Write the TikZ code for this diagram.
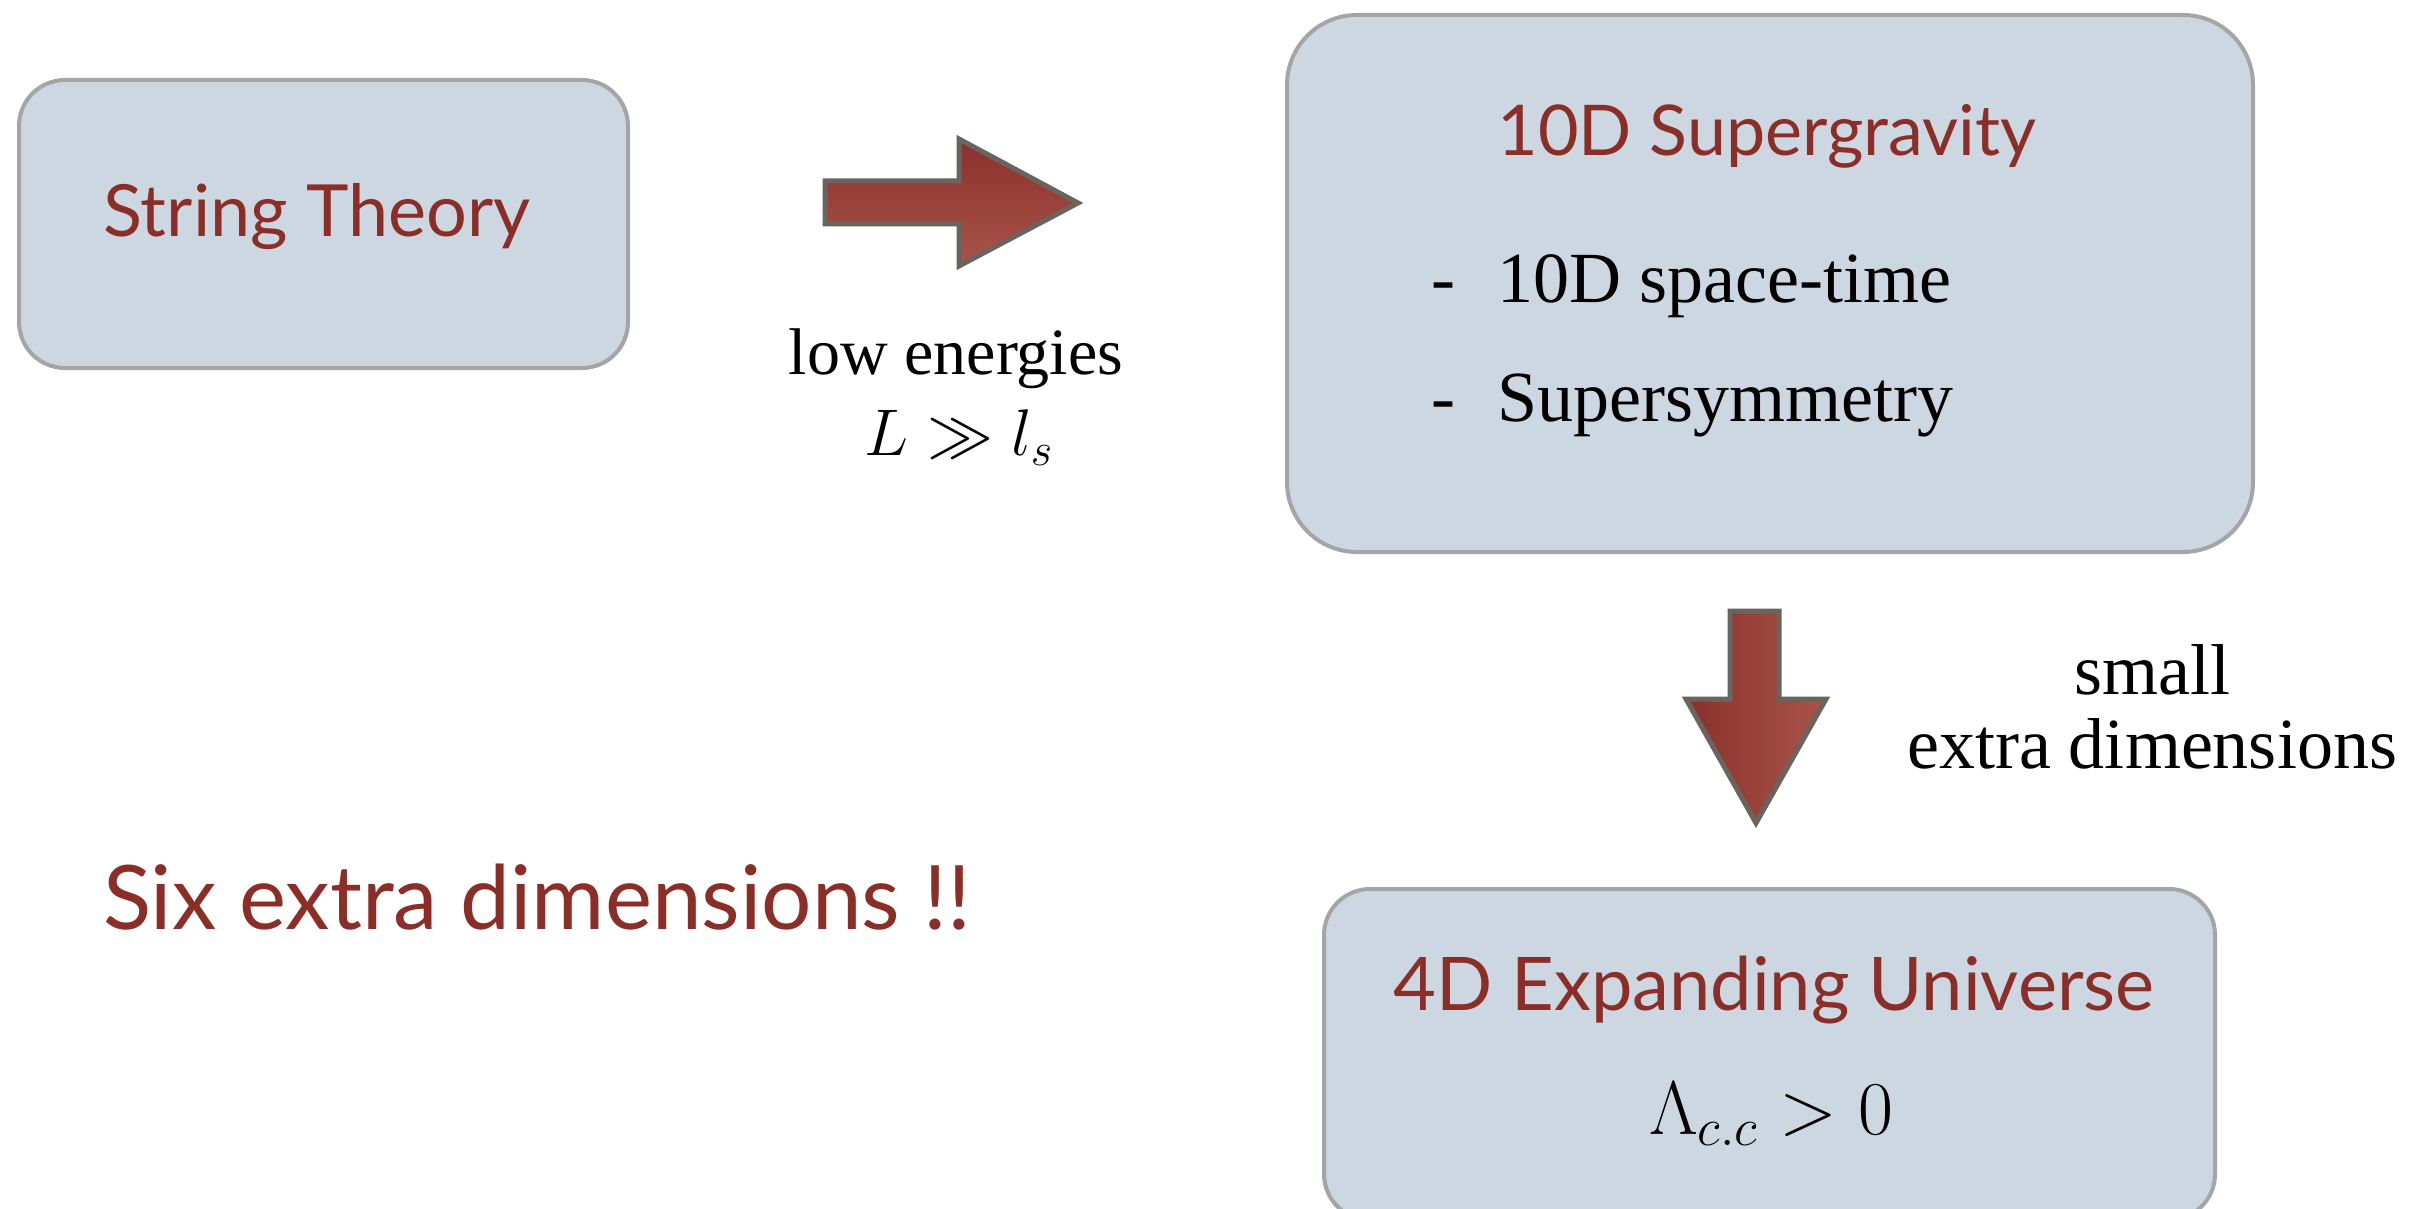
\documentclass[tikz,border=0pt]{standalone}
\usepackage{fix-cm}
\usepackage{fontspec}
\setmainfont{Liberation Serif}
\newfontfamily\titlefont{Lato}

\definecolor{boxfill}{HTML}{CDD7E1}
\definecolor{boxedge}{HTML}{A5A5A5}
\definecolor{titlered}{HTML}{8C2E28}
\definecolor{arrowedge}{HTML}{6A645E}
\definecolor{arrowdark}{HTML}{8A302B}
\definecolor{arrowlight}{HTML}{A9544A}

\begin{document}
\begin{tikzpicture}[x=0.5pt,y=-0.5pt,
  box/.style={rectangle, draw=boxedge, line width=2pt, fill=boxfill,
    rounded corners=#1, inner sep=0pt},
  box/.default=23pt,
  title/.style={text=titlered, inner sep=0pt, font=\titlefont\fontsize{#1}{#1}\selectfont},
  plain/.style={text=black, inner sep=0pt, font=\fontsize{#1}{#1}\selectfont},
  blockarrow/.style={draw=arrowedge, line width=2.5pt, line join=miter}
]
\useasboundingbox (0,0) rectangle (2426,1209);

% boxes
\node[box, minimum width=304.5pt, minimum height=144pt] (st) at (323.5,224) {};
\node[box=35pt, minimum width=483pt, minimum height=268.5pt] (sg) at (1770,283.5) {};
\node[box, minimum width=445.5pt, minimum height=165.5pt] (eu) at (1769.5,1054.5) {};

% box contents
\node[title=36] (sttext) at (317,217) {String Theory};
\node[title=35] (sgtitle) at (1767,136) {10D Supergravity};
\node[plain=36, anchor=mid west] (dash1) at (1431,298) {-};
\node[plain=36, anchor=mid west] (item1) at (1497,298) {10D space-time};
\node[plain=36, anchor=mid west] (dash2) at (1431,417) {-};
\node[plain=36, anchor=mid west] (item2) at (1497,417) {Supersymmetry};
\node[title=37] (eutitle) at (1774,990) {4D Expanding Universe};
\node[plain=38] (cc) at (1771,1114) {$\Lambda_{c.c} > 0$};

% block arrows
\coordinate (rtip) at (1078,203);
\coordinate (dtip) at (1756,823);
\draw[blockarrow, top color=arrowdark, bottom color=arrowlight]
  (825,181) -- (959,181) -- (959,139) -- (rtip) -- (959,266) -- (959,224) -- (825,224) -- cycle;
\draw[blockarrow, left color=arrowdark, right color=arrowlight]
  (1730,611) -- (1779,611) -- (1779,699) -- (1826,699) -- (dtip) -- (1686,699) -- (1730,699) -- cycle;

% arrow labels
\node[plain=33] (low) at (956,359) {low energies};
\node[plain=33] (scale) at (959,438) {$L \gg l_s$};
\node[text=black, inner sep=0pt, align=center, font=\fontsize{36}{37}\selectfont] (small) at (2152,707) {small\\extra dimensions};

% remark
\node[title=44.5] (six) at (537,897) {Six extra dimensions !!};
\end{tikzpicture}
\end{document}
